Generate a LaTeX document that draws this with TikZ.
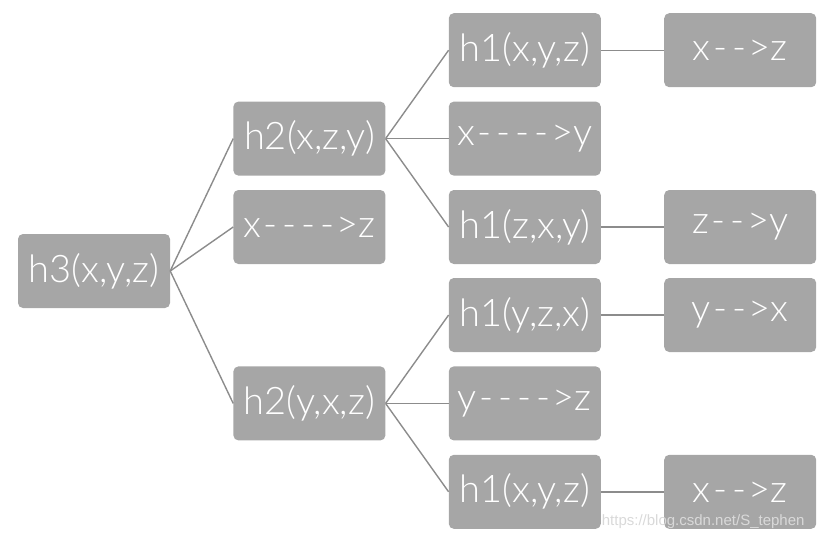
\documentclass[tikz,border=0pt]{standalone}
\usepackage{fontspec}
\setmainfont{Lato}[UprightFont=* Light]
\usepackage{tikz}
\usetikzlibrary{positioning}
\usepackage{xcolor}
\definecolor{boxgray}{HTML}{A6A6A6}
\definecolor{linegray}{HTML}{8C8C8C}
\tikzstyle{hbox} = [
rectangle,
rounded corners=5pt,
minimum width=152pt,
minimum height=74pt,
inner sep=0pt,
fill=boxgray,
text=white,
font=\fontsize{38}{42}\selectfont
]
\tikzstyle{link}=[draw=linegray,line width=1.4pt]
\newcommand{\dsh}{\makebox[0.5em]{-}}

\begin{document}
\begin{tikzpicture}[node distance=63pt]
        \useasboundingbox (0pt,0pt) rectangle (818pt,-539pt);

        \node(h3)[hbox] at (94pt,-271pt)
        {h3(x,y,z)};

        % second column
        \node(xz)[hbox, right=63pt of h3, yshift=44pt]
        {x\dsh\dsh\dsh\dsh>z};
        \node(h2a)[hbox, above=14pt of xz]
        {h2(x,z,y)};
        \node(h2b)[hbox, below=102pt of xz]
        {h2(y,x,z)};

        % third column
        \node(xy)[hbox, right=of h2a]
        {x\dsh\dsh\dsh\dsh>y};
        \node(h1a)[hbox, above=14pt of xy]
        {h1(x,y,z)};
        \node(h1b)[hbox, below=14pt of xy]
        {h1(z,x,y)};
        \node(yz)[hbox, right=of h2b]
        {y\dsh\dsh\dsh\dsh>z};
        \node(h1c)[hbox, above=14pt of yz]
        {h1(y,z,x)};
        \node(h1d)[hbox, below=14pt of yz]
        {h1(x,y,z)};

        % fourth column
        \node(m1)[hbox, right=of h1a]
        {x\dsh\dsh>z};
        \node(m2)[hbox, right=of h1b]
        {z\dsh\dsh>y};
        \node(m3)[hbox, right=of h1c]
        {y\dsh\dsh>x};
        \node(m4)[hbox, right=of h1d]
        {x\dsh\dsh>z};

        \draw[link] (h3.east)--(h2a.west);
        \draw[link] (h3.east)--(xz.west);
        \draw[link] (h3.east)--(h2b.west);

        \draw[link] (h2a.east)--(h1a.west);
        \draw[link] (h2a.east)--(xy.west);
        \draw[link] (h2a.east)--(h1b.west);

        \draw[link] (h2b.east)--(h1c.west);
        \draw[link] (h2b.east)--(yz.west);
        \draw[link] (h2b.east)--(h1d.west);

        \draw[link] (h1a)--(m1);
        \draw[link] (h1b)--(m2);
        \draw[link] (h1c)--(m3);
        \draw[link] (h1d)--(m4);

        \node(mark)[anchor=base east, text=black!15,
        font=\fontspec{Liberation Sans}\fontsize{15}{17}\selectfont]
        at (808pt,-525pt) {https://blog.csdn.net/S\_tephen};

\end{tikzpicture}
\end{document}
